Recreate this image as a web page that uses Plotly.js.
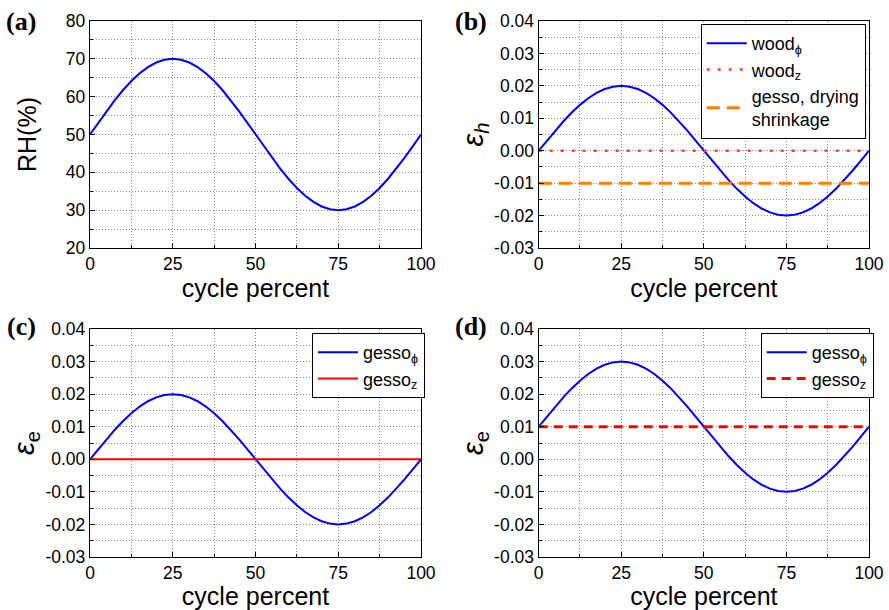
<!DOCTYPE html>
<html>
<head>
<meta charset="utf-8">
<script src="https://cdn.plot.ly/plotly-3.0.1.min.js"></script>
<style>html,body{margin:0;padding:0;background:#fff;}#chart{width:889px;height:610px;}</style>
</head>
<body>
<div id="chart"></div>
<script>
// cycle percent
const cyclePercent = [0,2.5,5,7.5,10,12.5,15,17.5,20,22.5,25,27.5,30,32.5,35,37.5,40,42.5,45,47.5,50,52.5,55,57.5,60,62.5,65,67.5,70,72.5,75,77.5,80,82.5,85,87.5,90,92.5,95,97.5,100];
// (a) relative humidity, %
const rh = [50,53.13,56.18,59.08,61.76,64.14,66.18,67.82,69.02,69.75,70,69.75,69.02,67.82,66.18,64.14,61.76,59.08,56.18,53.13,50,46.87,43.82,40.92,38.24,35.86,33.82,32.18,30.98,30.25,30,30.25,30.98,32.18,33.82,35.86,38.24,40.92,43.82,46.87,50];
// (b) wood hygroscopic strain
const woodPhi = [0,0.00313,0.00618,0.00908,0.01176,0.01414,0.01618,0.01782,0.01902,0.01975,0.02,0.01975,0.01902,0.01782,0.01618,0.01414,0.01176,0.00908,0.00618,0.00313,0,-0.00313,-0.00618,-0.00908,-0.01176,-0.01414,-0.01618,-0.01782,-0.01902,-0.01975,-0.02,-0.01975,-0.01902,-0.01782,-0.01618,-0.01414,-0.01176,-0.00908,-0.00618,-0.00313,0];
const woodZ = [0,0];
const gessoDrying = [-0.01,-0.01];
const lineX = [0,100];
// (c) gesso strain
const gessoPhiC = [0,0.00313,0.00618,0.00908,0.01176,0.01414,0.01618,0.01782,0.01902,0.01975,0.02,0.01975,0.01902,0.01782,0.01618,0.01414,0.01176,0.00908,0.00618,0.00313,0,-0.00313,-0.00618,-0.00908,-0.01176,-0.01414,-0.01618,-0.01782,-0.01902,-0.01975,-0.02,-0.01975,-0.01902,-0.01782,-0.01618,-0.01414,-0.01176,-0.00908,-0.00618,-0.00313,0];
const gessoZC = [0,0];
// (d) gesso strain with drying shrinkage
const gessoPhiD = [0.01,0.01313,0.01618,0.01908,0.02176,0.02414,0.02618,0.02782,0.02902,0.02975,0.03,0.02975,0.02902,0.02782,0.02618,0.02414,0.02176,0.01908,0.01618,0.01313,0.01,0.00687,0.00382,0.00092,-0.00176,-0.00414,-0.00618,-0.00782,-0.00902,-0.00975,-0.01,-0.00975,-0.00902,-0.00782,-0.00618,-0.00414,-0.00176,0.00092,0.00382,0.00687,0.01];
const gessoZD = [0.01,0.01];

const xTicks = [0,25,50,75,100];
const rhTicks = [20,30,40,50,60,70,80];
const strainTickVals = [-0.03,-0.02,-0.01,0,0.01,0.02,0.03,0.04];
const strainTickText = ['-0.03','-0.02','-0.01','0.00','0.01','0.02','0.03','0.04'];

const FONT = 'Liberation Sans, Arial, sans-serif';
const gridCol = '#8a8a8a';
const gridDash = '1px,2px';

function xAxis(domain, anchor) {
  return {
    domain: domain, anchor: anchor, range: [0,100],
    tickmode: 'array', tickvals: xTicks,
    ticks: 'inside', ticklen: 5, tickcolor: '#000',
    showline: true, linecolor: '#000', linewidth: 1.2, mirror: true,
    showgrid: true, gridcolor: gridCol, griddash: gridDash, gridwidth: 1,
    zeroline: false,
    minor: {dtick: 12.5, tick0: 0, ticks: 'inside', ticklen: 3, tickcolor: '#000', showgrid: true, gridcolor: gridCol, griddash: gridDash, gridwidth: 1},
    tickfont: {family: FONT, size: 17.5, color: '#000'},
    title: {text: 'cycle percent', font: {family: FONT, size: 25, color: '#000'}, standoff: 1},
    automargin: false
  };
}
function yAxis(domain, anchor, range, tv, tt, minorStep, titleText, standoff, titleSize) {
  return {
    domain: domain, anchor: anchor, range: range,
    tickmode: 'array', tickvals: tv, ticktext: tt,
    ticks: 'inside', ticklen: 5, tickcolor: '#000',
    showline: true, linecolor: '#000', linewidth: 1.2, mirror: true,
    showgrid: true, gridcolor: gridCol, griddash: gridDash, gridwidth: 1,
    zeroline: false,
    minor: {dtick: minorStep, tick0: range[0], ticks: 'inside', ticklen: 3, tickcolor: '#000', showgrid: true, gridcolor: gridCol, griddash: gridDash, gridwidth: 1},
    tickfont: {family: FONT, size: 17.5, color: '#000'},
    title: {text: titleText, font: {family: FONT, size: titleSize, color: '#000'}, standoff: standoff},
    automargin: false
  };
}

const data = [
  {x: cyclePercent, y: rh, xaxis: 'x', yaxis: 'y', mode: 'lines', line: {color: '#0000ff', width: 2}, showlegend: false, name: 'RH'},
  {x: cyclePercent, y: woodPhi, xaxis: 'x2', yaxis: 'y2', mode: 'lines', line: {color: '#0000ff', width: 2}, name: 'wood<sub>\u03d5</sub>', legend: 'legend'},
  {x: lineX, y: woodZ, xaxis: 'x2', yaxis: 'y2', mode: 'lines', line: {color: '#ff3b3b', width: 2.5, dash: '3px,8px'}, name: 'wood<sub>z</sub>', legend: 'legend'},
  {x: lineX, y: gessoDrying, xaxis: 'x2', yaxis: 'y2', mode: 'lines', line: {color: '#ff8000', width: 3, dash: '13px,7px'}, name: 'gesso, drying<br>shrinkage', legend: 'legend'},
  {x: cyclePercent, y: gessoPhiC, xaxis: 'x3', yaxis: 'y3', mode: 'lines', line: {color: '#0000ff', width: 2}, name: 'gesso<sub>\u03d5</sub>', legend: 'legend2'},
  {x: lineX, y: gessoZC, xaxis: 'x3', yaxis: 'y3', mode: 'lines', line: {color: '#ff0000', width: 2}, name: 'gesso<sub>z</sub>', legend: 'legend2'},
  {x: cyclePercent, y: gessoPhiD, xaxis: 'x4', yaxis: 'y4', mode: 'lines', line: {color: '#0000ff', width: 2}, name: 'gesso<sub>\u03d5</sub>', legend: 'legend3'},
  {x: lineX, y: gessoZD, xaxis: 'x4', yaxis: 'y4', mode: 'lines', line: {color: '#ff0000', width: 3, dash: '9px,6px'}, name: 'gesso<sub>z</sub>', legend: 'legend3'}
];

const xL = [90/889, 421/889], xR = [538.7/889, 869/889];
const yT = [1-248/610, 1-21/610], yB = [1-557/610, 1-329/610];
const epsH = '<i>\u03b5<sub>h</sub></i>';
const epsE = '<i>\u03b5</i><sub>e</sub>';

const legendBase = {
  bgcolor: '#fff', bordercolor: '#000', borderwidth: 1,
  font: {family: FONT, size: 18, color: '#000'},
  xanchor: 'left', yanchor: 'top', tracegroupgap: 0, itemwidth: 40
};

const layout = {
  width: 889, height: 610,
  margin: {l: 0, r: 0, t: 0, b: 0},
  paper_bgcolor: '#fff', plot_bgcolor: '#fff',
  showlegend: true,
  xaxis: xAxis(xL, 'y'),
  yaxis: yAxis(yT, 'x', [20,80], rhTicks, rhTicks.map(String), 5, 'RH(%)', 22, 25),
  xaxis2: xAxis(xR, 'y2'),
  yaxis2: yAxis(yT, 'x2', [-0.03,0.04], strainTickVals, strainTickText, 0.005, epsH, 2, 29),
  xaxis3: xAxis(xL, 'y3'),
  yaxis3: yAxis(yB, 'x3', [-0.03,0.04], strainTickVals, strainTickText, 0.005, epsE, 2, 29),
  xaxis4: xAxis(xR, 'y4'),
  yaxis4: yAxis(yB, 'x4', [-0.03,0.04], strainTickVals, strainTickText, 0.005, epsE, 2, 29),
  legend: Object.assign({}, legendBase, {x: 700.7/889, y: 1-24/610}),
  legend2: Object.assign({}, legendBase, {x: 312/889, y: 1-333/610}),
  legend3: Object.assign({}, legendBase, {x: 760.7/889, y: 1-333/610}),
  annotations: [
    {text: '<b>(a)</b>', x: 21/889, y: 1-22/610},
    {text: '<b>(b)</b>', x: 471/889, y: 1-22/610},
    {text: '<b>(c)</b>', x: 21/889, y: 1-326/610},
    {text: '<b>(d)</b>', x: 471/889, y: 1-326/610}
  ].map(a => Object.assign({xref: 'paper', yref: 'paper', showarrow: false, xanchor: 'center', yanchor: 'middle', font: {family: 'Liberation Serif, Times New Roman, serif', size: 26, color: '#000'}}, a))
};

Plotly.newPlot('chart', data, layout, {displayModeBar: false, staticPlot: true});
</script>
</body>
</html>
